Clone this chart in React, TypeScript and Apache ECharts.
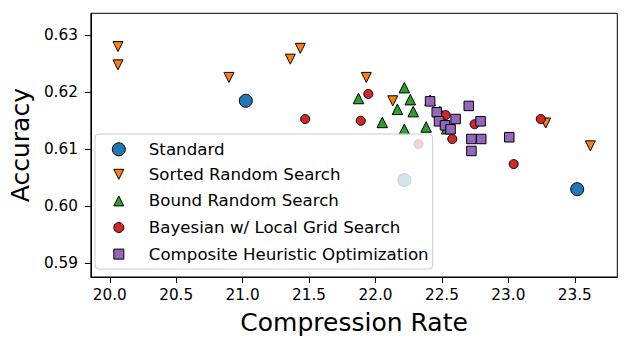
import React, { useEffect, useRef } from "react";
import * as echarts from "echarts";

const xTicks = [20, 20.5, 21, 21.5, 22, 22.5, 23, 23.5];
const yTicks = [0.59, 0.6, 0.61, 0.62, 0.63];

const seriesNames = [
  "Standard",
  "Sorted Random Search",
  "Bound Random Search",
  "Bayesian w/ Local Grid Search",
  "Composite Heuristic Optimization",
];

const standardData = [
  [21.024, 0.6185],
  [22.217, 0.6046],
  [23.518, 0.603],
];

const sortedData = [
  [20.062, 0.628],
  [20.062, 0.6248],
  [20.897, 0.6226],
  [21.359, 0.6258],
  [21.434, 0.6277],
  [21.931, 0.6226],
  [22.13, 0.6185],
  [23.281, 0.6146],
  [23.617, 0.6106],
];

const boundData = [
  [21.872, 0.6189],
  [22.217, 0.6208],
  [22.262, 0.6187],
  [22.165, 0.617],
  [22.284, 0.6166],
  [22.051, 0.6147],
  [22.217, 0.6135],
  [22.381, 0.6139],
  [22.411, 0.6186],
  [22.485, 0.6166],
  [22.535, 0.6136],
];

const bayesianData = [
  [21.471, 0.6153],
  [21.889, 0.615],
  [21.946, 0.6197],
  [22.324, 0.6109],
  [22.578, 0.6118],
  [22.528, 0.616],
  [22.746, 0.6144],
  [23.244, 0.6153],
  [23.04, 0.6074],
];

const compositeData = [
  [22.411, 0.6184],
  [22.461, 0.6165],
  [22.478, 0.6149],
  [22.523, 0.6142],
  [22.565, 0.6135],
  [22.603, 0.6153],
  [22.702, 0.6176],
  [22.791, 0.6149],
  [22.722, 0.6118],
  [22.796, 0.6118],
  [22.722, 0.6097],
  [23.007, 0.6121],
];

const colors = ["#1f77b4", "#ff7f0e", "#2ca02c", "#d62728", "#9467bd"];
const downTri = "path://M0,0L10,0L5,10Z";
const symbols = ["circle", downTri, "triangle", "circle", "rect"];
const sizes = [13, 10, 10.5, 9, 9.5];
const allData = [standardData, sortedData, boundData, bayesianData, compositeData];

const FONT = "DejaVu Sans";

export default function App() {
  const ref = useRef<HTMLDivElement>(null);
  useEffect(() => {
    if (!ref.current) return;
    const chart = echarts.init(ref.current, null, { renderer: "svg" });
    const series = seriesNames.map((name, i) => ({
      name,
      type: "scatter",
      data: allData[i],
      symbol: symbols[i],
      symbolSize: sizes[i],
      itemStyle: {
        color: colors[i],
        borderColor: "#000",
        borderWidth: 1,
        opacity: 1,
      },
      emphasis: { disabled: true },
    }));
    const legendCommon = {
      orient: "vertical",
      padding: 0,
      backgroundColor: "transparent",
      selectedMode: false,
      z: 5,
      itemStyle: { borderWidth: 1, borderColor: "#000" },
    };
    chart.setOption({
      animation: false,
      backgroundColor: "#fff",
      textStyle: { fontFamily: FONT },
      grid: {
        left: 86,
        right: 12.7,
        top: 13.3,
        bottom: 68,
        show: true,
        borderColor: "#000",
        borderWidth: 1,
        backgroundColor: "transparent",
      },
      xAxis: {
        type: "value",
        min: 19.858,
        max: 23.82,
        name: "Compression Rate",
        nameLocation: "middle",
        nameGap: 33,
        nameTextStyle: { fontFamily: FONT, fontSize: 25, color: "#000" },
        axisLine: { show: true, lineStyle: { color: "#000", width: 1 } },
        axisTick: { show: true, length: 6, customValues: xTicks, lineStyle: { color: "#000" } },
        axisLabel: {
          customValues: xTicks,
          formatter: (v: number) => v.toFixed(1),
          fontFamily: FONT,
          fontSize: 15.28,
          color: "#000",
          margin: 10,
        },
        splitLine: { show: false },
      },
      yAxis: {
        type: "value",
        min: 0.5876,
        max: 0.63384,
        name: "Accuracy",
        nameLocation: "middle",
        nameGap: 53,
        nameTextStyle: { fontFamily: FONT, fontSize: 25, color: "#000" },
        axisLine: { show: true, lineStyle: { color: "#000", width: 1 } },
        axisTick: { show: true, length: 6, customValues: yTicks, lineStyle: { color: "#000" } },
        axisLabel: {
          customValues: yTicks,
          formatter: (v: number) => v.toFixed(2),
          fontFamily: FONT,
          fontSize: 15.28,
          color: "#000",
          margin: 13,
        },
        splitLine: { show: false },
      },
      legend: [
        {
          ...legendCommon,
          left: 111.8,
          top: 139.3,
          itemWidth: 13,
          itemHeight: 13,
          textStyle: {
            fontFamily: FONT,
            fontSize: 16.67,
            color: "#000",
            lineHeight: 20,
            padding: [0, 0, 0, 18.5],
          },
          data: [{ name: seriesNames[0], icon: symbols[0] }],
        },
        {
          ...legendCommon,
          left: 113.3,
          top: 164.3,
          itemWidth: 10,
          itemHeight: 10,
          itemGap: 6.6,
          textStyle: {
            fontFamily: FONT,
            fontSize: 16.67,
            color: "#000",
            lineHeight: 20,
            padding: [0, 0, 0, 20],
          },
          data: seriesNames.slice(1).map((n, i) => ({ name: n, icon: symbols[i + 1] })),
        },
      ],
      graphic: [
        {
          type: "rect",
          z: 3,
          silent: true,
          shape: { x: 95, y: 134, width: 337.7, height: 135, r: 4 },
          style: { fill: "rgba(255,255,255,0.8)", stroke: "#cccccc", lineWidth: 1 },
        },
      ],
      series,
    });
    return () => chart.dispose();
  }, []);
  return (
    <div
      ref={ref}
      style={{ position: "fixed", left: 0, top: 0, width: 630, height: 345 }}
    />
  );
}
